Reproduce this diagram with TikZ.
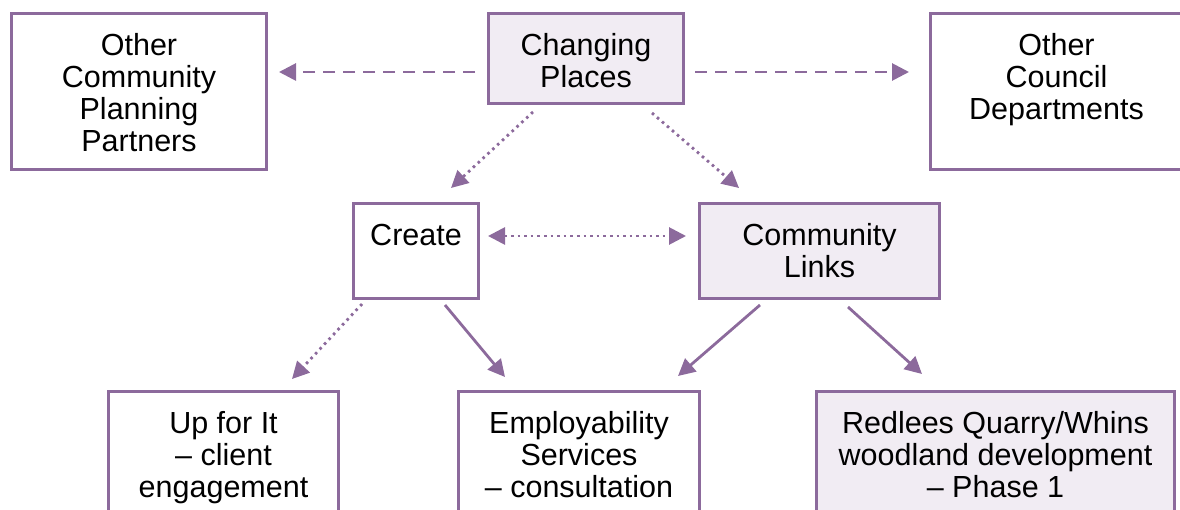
\documentclass[tikz,border=0pt]{standalone}
\usepackage{fontspec}
\setmainfont{Liberation Sans}
\usetikzlibrary{arrows.meta}
\definecolor{plum}{HTML}{8C6A9C}
\definecolor{lav}{HTML}{F1ECF3}
\begin{document}
\begin{tikzpicture}[x=1pt,y=-1pt,
  box/.style={draw=plum,line width=3pt,rectangle,inner sep=0pt,anchor=north west},
  shaded/.style={box,fill=lav},
  txt/.style={anchor=north,inner sep=0pt,align=center,font=\fontsize{30.5}{32}\selectfont,yshift=-20.6pt},
  tip/.style={Triangle[length=17pt,width=17pt]},
  conn/.style={draw=plum,line width=2.8pt,-{Triangle[length=17pt,width=17pt]}},
  dashconn/.style={conn,dash pattern=on 12pt off 8pt},
  dotconn/.style={conn,dash pattern=on 2.6pt off 4pt}]
\useasboundingbox (0,0) rectangle (1180,510);
\clip (0,0) rectangle (1180,510);
% boxes
\node[box,minimum width=255pt,minimum height=156pt] (ocp) at (10,12) {};
\node[shaded,minimum width=195pt,minimum height=90pt] (cp) at (487,12) {};
\node[box,minimum width=252pt,minimum height=156pt] (ocd) at (929,12) {};
\node[box,minimum width=125pt,minimum height=95pt] (cr) at (352,202) {};
\node[shaded,minimum width=240pt,minimum height=95pt] (cl) at (698,202) {};
\node[box,minimum width=230pt,minimum height=160pt] (up) at (107,390) {};
\node[box,minimum width=241pt,minimum height=160pt] (es) at (457,390) {};
\node[shaded,minimum width=358pt,minimum height=160pt] (rq) at (815,390) {};
% texts
\node[txt] (ocpt) at (ocp.north) {\strut Other\\Community\\Planning\\Partners};
\node[txt] (cpt) at (cp.north) {\strut Changing\\Places};
\node[txt] (ocdt) at (ocd.north) {\strut Other\\Council\\Departments};
\node[txt] (crt) at (cr.north) {\strut Create};
\node[txt] (clt) at (cl.north) {\strut Community\\Links};
\node[txt] (upt) at (up.north) {\strut Up for It\\– client\\engagement};
\node[txt] (est) at (es.north) {\strut Employability\\Services\\– consultation};
\node[txt] (rqt) at (rq.north) {\strut Redlees Quarry/Whins\\woodland development\\– Phase 1};
% connector end points
\coordinate (a1) at (475,72);  \coordinate (a2) at (279,72);
\coordinate (b1) at (695,72);  \coordinate (b2) at (909,72);
\coordinate (c1) at (533,112); \coordinate (c2) at (451,188);
\coordinate (d1) at (652,113); \coordinate (d2) at (739,188);
\coordinate (e1) at (488,236); \coordinate (e2) at (686,236);
\coordinate (f1) at (362,304); \coordinate (f2) at (292,379);
\coordinate (g1) at (445,305); \coordinate (g2) at (505,377);
\coordinate (h1) at (760,305); \coordinate (h2) at (678,376);
\coordinate (i1) at (848,307); \coordinate (i2) at (922,374);
\draw[dashconn] (a1) -- (a2);
\draw[dashconn] (b1) -- (b2);
\draw[dotconn] (c1) -- (c2);
\draw[dotconn] (d1) -- (d2);
\draw[dotconn,{Triangle[length=17pt,width=17pt]}-{Triangle[length=17pt,width=17pt]}] (e1) -- (e2);
\draw[dotconn] (f1) -- (f2);
\draw[conn] (g1) -- (g2);
\draw[conn] (h1) -- (h2);
\draw[conn] (i1) -- (i2);
\end{tikzpicture}
\end{document}
